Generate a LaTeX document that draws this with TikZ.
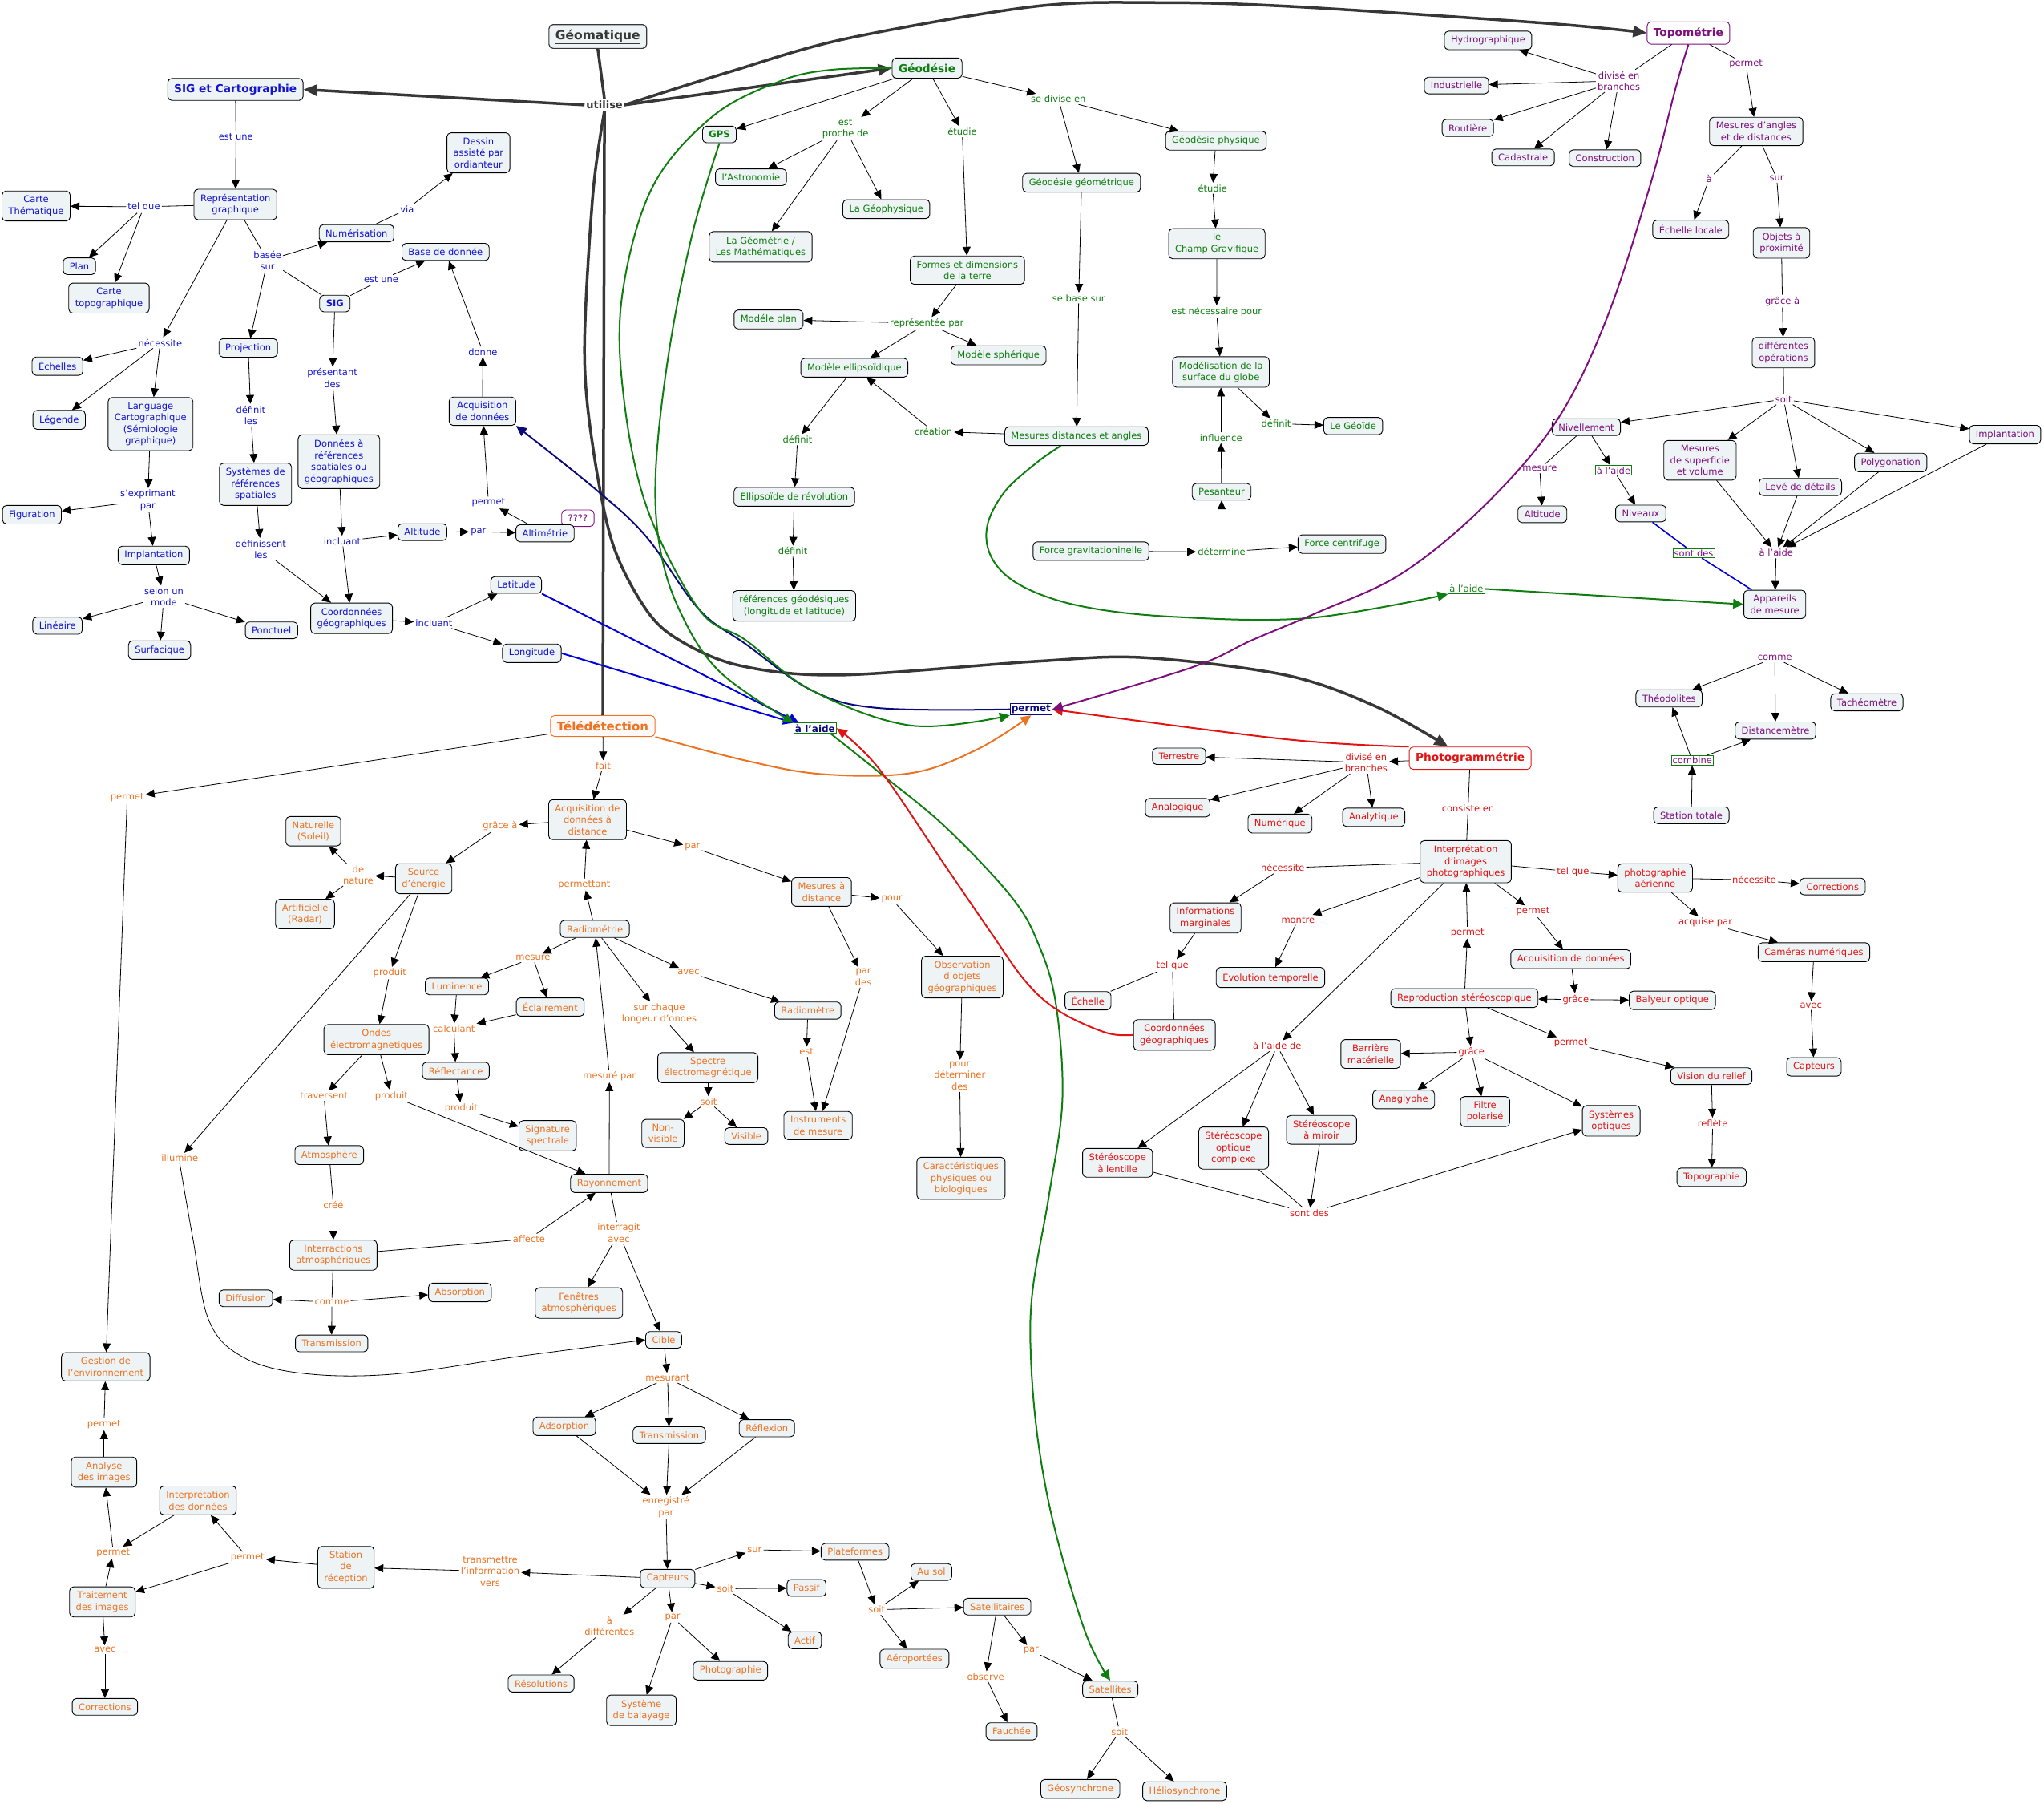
\documentclass[tikz,border=0pt]{standalone}
\usepackage{fontspec}
\setmainfont{DejaVu Sans}
\usetikzlibrary{arrows.meta,calc}
\definecolor{cfill}{HTML}{EEF3F5}
\definecolor{cblu}{RGB}{20,20,205}
\definecolor{cgrn}{RGB}{15,125,15}
\definecolor{cpur}{RGB}{125,15,125}
\definecolor{cora}{RGB}{235,115,35}
\definecolor{cred}{RGB}{225,20,20}
\definecolor{cdrk}{RGB}{55,55,55}
\definecolor{cnavy}{RGB}{10,10,125}
\definecolor{cblue2}{RGB}{0,0,220}
\newcommand\myfs{\fontsize{11.5}{14.5}\selectfont}
\newcommand\ttfs{\fontsize{13.7}{16}\selectfont\bfseries}
\newcommand\ARW[2]{\draw[ar] (#1) -- (#2);}
\newcommand\LNK[2]{\draw[ln] (#1) -- (#2);}
\begin{document}
\begin{tikzpicture}[x=1.6263pt,y=-1.6263pt,
  box/.style={draw=black,line width=0.9pt,rounded corners=5pt,fill=cfill,inner xsep=8pt,inner ysep=6pt,align=center,font=\myfs},
  ttl/.style={box,font=\ttfs,inner ysep=7pt},
  lab/.style={inner sep=2pt,align=center,font=\myfs},
  B/.style={box,text=cblu}, G/.style={box,text=cgrn}, P/.style={box,text=cpur},
  O/.style={box,text=cora}, R/.style={box,text=cred},
  lB/.style={lab,text=cblu}, lG/.style={lab,text=cgrn}, lP/.style={lab,text=cpur},
  lO/.style={lab,text=cora}, lR/.style={lab,text=cred},
  gbox/.style={draw=cgrn,line width=0.8pt,inner sep=1.5pt},
  ln/.style={draw=black,line width=0.8pt},
  ar/.style={ln,-{Triangle[length=11pt,width=10pt]}},
  thk/.style={draw=cdrk,line width=3.5pt},
  thka/.style={thk,-{Triangle[length=17pt,width=14pt]}},
  xl/.style={line width=2pt,-{Triangle[length=13pt,width=12pt]}},
]
\useasboundingbox (0,0) rectangle (1568,1383);

% ================= centre =================
\node[box,draw=cdrk,line width=1.2pt,text=cdrk,font=\fontsize{15.5}{18}\selectfont\bfseries] (geomat) at (458.6,28) {\underline{Géomatique}};
\node[lab,text=cdrk,font=\fontsize{13}{15}\selectfont\bfseries] (utilise) at (463.7,80.5) {utilise};
\node[draw=cnavy,fill=white,line width=0.9pt,inner sep=1.5pt,text=cnavy,font=\fontsize{12}{14}\selectfont\bfseries] (permm) at (791,544) {permet};
\node[draw=cgrn,fill=white,line width=0.9pt,inner sep=1.5pt,text=cnavy,font=\fontsize{12}{14}\selectfont\bfseries] (aidem) at (625.3,558.5) {à l'aide};

% ================= SIG (blue) =================
\node[ttl,text=cblu] (sigc) at (180.6,68.6) {SIG et Cartographie};
\node[B] (repg) at (180.6,156.8) {Représentation\\graphique};
\node[B] (cthem) at (27.7,158) {Carte\\Thématique};
\node[B] (plan) at (60.9,204.2) {Plan};
\node[B] (ctopo) at (83.6,228.6) {Carte\\topographique};
\node[B] (echl) at (44.1,280.8) {Échelles};
\node[B] (leg) at (45.4,322) {Légende};
\node[B] (lang) at (115.5,325.2) {Language\\Cartographique\\(Sémiologie\\graphique)};
\node[B] (numer) at (273.5,178.9) {Numérisation};
\node[B] (dessin) at (367,117.2) {Dessin\\assisté par\\ordianteur};
\node[B] (bdd) at (341.8,193.2) {Base de donnée};
\node[B,font=\myfs\bfseries] (sig) at (256.9,232.8) {SIG};
\node[B] (proj) at (190.4,266.8) {Projection};
\node[B] (sysref) at (196,371.4) {Systèmes de\\références\\spatiales};
\node[B] (donn) at (260,354.1) {Données à\\références\\spatiales ou\\géographiques};
\node[B] (acqb) at (370.1,315.4) {Acquisition\\de données};
\node[B] (figur) at (24.5,394.7) {Figuration};
\node[B] (implb) at (118,426) {Implantation};
\node[B] (linea) at (44.1,479.8) {Linéaire};
\node[B] (surfa) at (122.4,498.6) {Surfacique};
\node[B] (ponct) at (208.3,483.4) {Ponctuel};
\node[B] (coordb) at (269.7,474.2) {Coordonnées\\géographiques};
\node[B] (altb) at (324,408.1) {Altitude};
\node[box,fill=white,draw=cpur,text=cpur] (qqq) at (443.3,397.4) {????};
\node[B] (altim) at (418.1,409) {Altimétrie};
\node[B] (lat) at (396,448.6) {Latitude};
\node[B] (long) at (408,501) {Longitude};

\node[lB] (lestune1) at (181,104.6) {est une};
\node[lB] (ltelque1) at (110.4,158.6) {tel que};
\node[lB] (lnec1) at (122.9,262.9) {nécessite};
\node[lB] (lbasee) at (205.2,199.7) {basée\\sur};
\node[lB] (lvia) at (312.3,160.4) {via};
\node[lB] (lestune2) at (292.4,214.6) {est une};
\node[lB] (lpres) at (254.9,290) {présentant\\des};
\node[lB] (ldefles) at (192.4,318.4) {définit\\les};
\node[lB] (lsexp) at (113.4,383.7) {s'exprimant\\par};
\node[lB] (lselon) at (125.7,457.6) {selon un\\mode};
\node[lB] (ldefsles) at (200.1,421.2) {définissent\\les};
\node[lB] (lincl1) at (262.6,415) {incluant};
\node[lB] (lpar1) at (367,407.8) {par};
\node[lB] (lperm1) at (374.7,385.4) {permet};
\node[lB] (ldonne) at (370.4,269.8) {donne};
\node[lB] (lincl2) at (332.9,477.8) {incluant};

% ================= Géodésie (green) =================
\node[ttl,text=cgrn] (geod) at (711.2,52.2) {Géodésie};
\node[G,font=\myfs\bfseries] (gps) at (551.9,103.1) {GPS};
\node[G] (astro) at (576.1,135.9) {l'Astronomie};
\node[G] (geophys) at (679.9,160.4) {La Géophysique};
\node[G] (geomet) at (583.5,189.3) {La Géométrie /\\Les Mathématiques};
\node[G] (formes) at (742.1,207.2) {Formes et dimensions\\de la terre};
\node[G] (modplan) at (589.6,245) {Modéle plan};
\node[G] (modsph) at (766,272.5) {Modèle sphérique};
\node[G] (modell) at (655.4,282) {Modèle ellipsoïdique};
\node[G] (ellrev) at (609.3,381) {Ellipsoïde de révolution};
\node[G] (refgeo) at (609.3,464.6) {références géodésiques\\(longitude et latitude)};
\node[G] (geogeom) at (829.7,140.1) {Géodésie géométrique};
\node[G] (geophy) at (932.7,107.9) {Géodésie physique};
\node[G] (champ) at (933.5,186.9) {le\\Champ Gravifique};
\node[G] (modelis) at (936.6,285.3) {Modélisation de la\\surface du globe};
\node[G] (mesda) at (825.8,334.5) {Mesures distances et angles};
\node[G] (geoide) at (1038,326.7) {Le Géoïde};
\node[G] (pesant) at (937.1,377.1) {Pesanteur};
\node[G] (forceg) at (836.9,422.7) {Force gravitationinelle};
\node[G] (forcec) at (1029.4,417.3) {Force centrifuge};

\node[lG] (lproche) at (648.5,98.7) {est\\proche de};
\node[lG] (letud1) at (738.2,101) {étudie};
\node[lG] (ldivise) at (811.9,76) {se divise en};
\node[lG] (lrepr) at (711,248) {représentée par};
\node[lG] (ldef1) at (611.8,337.2) {définit};
\node[lG] (lcreation) at (716.1,330.9) {création};
\node[lG] (ldef2) at (608.2,422.7) {définit};
\node[lG] (lbasesur) at (827.5,228.6) {se base sur};
\node[lG] (letud2) at (930.2,144.3) {étudie};
\node[lG] (lnecpour) at (933.3,239.1) {est nécessaire pour};
\node[lG] (ldef3) at (978.9,324.9) {définit};
\node[lG] (linflu) at (936.6,335.7) {influence};
\node[lG] (ldeterm) at (937.1,423.3) {détermine};
\node[lG,gbox] (aideg) at (1124.9,451.6) {à l'aide};

% ================= Topométrie (purple) =================
\node[ttl,text=cpur,draw=cpur,fill=white] (topo) at (1295.2,25.3) {Topométrie};
\node[P] (hydro) at (1141.5,31) {Hydrographique};
\node[P] (indus) at (1117.3,65.6) {Industrielle};
\node[P] (rout) at (1126,98.1) {Routière};
\node[P] (cadas) at (1168.4,120.7) {Cadastrale};
\node[P] (constr) at (1231.2,121.3) {Construction};
\node[P] (mesang) at (1347.2,100.8) {Mesures d'angles\\et de distances};
\node[P] (echloc) at (1297,175.9) {Échelle locale};
\node[P] (objets) at (1366.6,186.3) {Objets à\\proximité};
\node[P] (diffop) at (1368.1,270.4) {différentes\\opérations};
\node[P] (nivel) at (1216.9,327.6) {Nivellement};
\node[P] (messup) at (1304.1,353) {Mesures\\de superficie\\et volume};
\node[P] (leve) at (1381.1,373.5) {Levé de détails};
\node[P] (polyg) at (1450.4,354.7) {Polygonation};
\node[P] (implp) at (1538.1,333.3) {Implantation};
\node[P] (altp) at (1183.2,394.4) {Altitude};
\node[P] (niveaux) at (1258.7,393.8) {Niveaux};
\node[P] (appar) at (1361.5,463.5) {Appareils\\de mesure};
\node[P] (theod) at (1280.4,535.6) {Théodolites};
\node[P] (tacheo) at (1432.1,538.6) {Tachéomètre};
\node[P] (distm) at (1362,560.3) {Distancemètre};
\node[P] (stot) at (1297.5,625.3) {Station totale};

\node[lP] (ldivbr) at (1241.9,62) {divisé en\\branches};
\node[lP] (lperm2) at (1339.3,49.2) {permet};
\node[lP] (la) at (1311.2,137.1) {à};
\node[lP] (lsur1) at (1363,136.8) {sur};
\node[lP] (lgrace1) at (1367.3,231) {grâce à};
\node[lP] (lsoit1) at (1368.3,306.2) {soit};
\node[lP] (lmesure1) at (1181.2,359.5) {mesure};
\node[lP,gbox] (laide1) at (1237.8,360.7) {à l'aide};
\node[lP,gbox] (lsontdes1) at (1299.3,424.2) {sont des};
\node[lP] (laide2) at (1362.5,423.9) {à l'aide};
\node[lP] (lcomme1) at (1361.5,504.6) {comme};
\node[lP,gbox] (lcombine) at (1298.2,583.3) {combine};

% ================= Photogrammétrie (red) =================
\node[ttl,text=cred,draw=cred,fill=white] (photog) at (1127.8,581.5) {Photogrammétrie};
\node[R] (terr) at (904.5,580) {Terrestre};
\node[R] (analog) at (903.4,619.4) {Analogique};
\node[R] (numeriq) at (981.9,631.6) {Numérique};
\node[R] (analyt) at (1053.8,626.8) {Analytique};
\node[R] (interp) at (1124.4,660.8) {Interprétation\\d'images\\photographiques};
\node[R] (infom) at (924.8,704) {Informations\\marginales};
\node[R] (evol) at (974.6,749.6) {Évolution temporelle};
\node[R] (echr) at (834.6,767.5) {Échelle};
\node[R] (coordr) at (900.9,793.7) {Coordonnées\\géographiques};
\node[R] (photoaer) at (1269.7,673.3) {photographie\\aérienne};
\node[R] (corrr) at (1405.8,679.9) {Corrections};
\node[R] (cameras) at (1391.5,730.3) {Caméras numériques};
\node[R] (capr) at (1391.5,818.2) {Capteurs};
\node[R] (acqr) at (1205,735.6) {Acquisition de données};
\node[R] (balyeur) at (1282.9,767.2) {Balyeur optique};
\node[R] (repro) at (1123.4,765.4) {Reproduction stéréoscopique};
\node[R] (vision) at (1312.8,825.3) {Vision du relief};
\node[R] (topog) at (1313,902.9) {Topographie};
\node[R] (sysopt) at (1236,859.6) {Systèmes\\optiques};
\node[R] (barr) at (1051.5,808.3) {Barrière\\matérielle};
\node[R] (anagl) at (1076.8,843.2) {Anaglyphe};
\node[R] (filtre) at (1139.2,852.5) {Filtre\\polarisé};
\node[R] (stlent) at (857.3,891.8) {Stéréoscope\\à lentille};
\node[R] (stopt) at (946.3,880.5) {Stéréoscope\\optique\\complexe};
\node[R] (stmir) at (1013.8,866.5) {Stéréoscope\\à miroir};

\node[lR] (ldivbr2) at (1048,584.8) {divisé en\\branches};
\node[lR] (lconsiste) at (1126.2,619.7) {consiste en};
\node[lR] (lnec2) at (984,665.6) {nécessite};
\node[lR] (lmontre) at (995.7,705.5) {montre};
\node[lR] (ltelque3) at (899.4,740.4) {tel que};
\node[lR] (laidede) at (979.7,802.1) {à l'aide de};
\node[lR] (lperm4) at (1125.7,715.3) {permet};
\node[lR] (lperm3) at (1176,699) {permet};
\node[lR] (ltelque2) at (1206.7,668.5) {tel que};
\node[lR] (lnec3) at (1345.7,674.8) {nécessite};
\node[lR] (lacquise) at (1308.2,707.6) {acquise par};
\node[lR] (lavec1) at (1389.2,771.1) {avec};
\node[lR] (lgrace2) at (1208.8,766.6) {grâce};
\node[lR] (lgrace3) at (1128.8,806.9) {grâce};
\node[lR] (lperm5) at (1205,800) {permet};
\node[lR] (lreflete) at (1313.8,861.4) {reflète};
\node[lR] (lsontdes2) at (1004.4,930.4) {sont des};

% ================= Télédétection (orange) =================
\node[ttl,text=cora,draw=cora,fill=white!96!cora,font=\fontsize{15}{18}\selectfont\bfseries] (tele) at (462.4,556.8) {Télédétection};
\node[O] (acqd) at (450.7,628.6) {Acquisition de\\données à\\distance};
\node[O] (natur) at (240.4,637.5) {Naturelle\\(Soleil)};
\node[O] (artif) at (234,701) {Artificielle\\(Radar)};
\node[O] (source) at (325,673.9) {Source\\d'énergie};
\node[O] (mesd) at (630.2,684) {Mesures à\\distance};
\node[O] (radiom) at (456.3,712.4) {Radiométrie};
\node[O] (lumin) at (350.5,756.5) {Luminence};
\node[O] (eclair) at (422.1,772.3) {Éclairement};
\node[O] (ondes) at (288.8,797.3) {Ondes\\électromagnetiques};
\node[O] (reflect) at (349.7,821.2) {Réflectance};
\node[O] (signat) at (420.1,871) {Signature\\spectrale};
\node[O] (radiomt) at (619.7,775) {Radiomètre};
\node[O] (spectre) at (543,818.8) {Spectre\\électromagnétique};
\node[O] (nonvis) at (508.6,869.2) {Non-\\visible};
\node[O] (visible) at (572.5,871.3) {Visible};
\node[O] (instr) at (627.6,863.2) {Instruments\\de mesure};
\node[O] (observ) at (738.2,749.3) {Observation\\d'objets\\géographiques};
\node[O] (caract) at (737.2,903.7) {Caractéristiques\\physiques ou\\biologiques};
\node[O] (atmos) at (252.6,885.9) {Atmosphère};
\node[O] (rayon) at (467.3,907.6) {Rayonnement};
\node[O] (interr) at (255.7,962.6) {Interractions\\atmosphériques};
\node[O] (diffus) at (188.6,995.7) {Diffusion};
\node[O] (absorp) at (352.8,991.2) {Absorption};
\node[O] (transma) at (254.4,1030.3) {Transmission};
\node[O] (fenet) at (444.1,999.3) {Fenêtres\\atmosphériques};
\node[O] (cible) at (509.1,1027.6) {Cible};
\node[O] (adsorp) at (432.9,1093.8) {Adsorption};
\node[O] (transmb) at (513.4,1100.6) {Transmission};
\node[O] (reflex) at (588.3,1095.3) {Réflexion};
\node[O] (capo) at (512.1,1210.6) {Capteurs};
\node[O] (platef) at (655.9,1190.1) {Plateformes};
\node[O] (passif) at (618.7,1217.8) {Passif};
\node[O] (actif) at (617.4,1258) {Actif};
\node[O] (ausol) at (714.5,1205.6) {Au sol};
\node[O] (satel) at (765,1232.1) {Satellitaires};
\node[O] (aerop) at (701.5,1272.1) {Aéroportées};
\node[O] (resol) at (415.1,1291.1) {Résolutions};
\node[O] (sysbal) at (492,1311.7) {Système\\de balayage};
\node[O] (photo) at (560.3,1281.3) {Photographie};
\node[O] (fauch) at (776,1327.8) {Fauchée};
\node[O] (satellites) at (851.7,1295.6) {Satellites};
\node[O] (geosync) at (828.7,1371.9) {Géosynchrone};
\node[O] (heliosync) at (908.8,1373.7) {Héliosynchrone};
\node[O] (gestion) at (81.1,1048.2) {Gestion de\\l'environnement};
\node[O] (analyse) at (79.8,1129) {Analyse\\des images};
\node[O] (interpd) at (151.9,1150.7) {Interprétation\\des données};
\node[O] (strec) at (265.4,1202) {Station\\de\\réception};
\node[O] (traitem) at (78.5,1228.5) {Traitement\\des images};
\node[O] (corro) at (80.5,1309) {Corrections};

\node[lO] (lperm6) at (97.6,611.6) {permet};
\node[lO] (lfait) at (462.7,587.2) {fait};
\node[lO] (lgrace4) at (383.6,633.4) {grâce à};
\node[lO] (lpar2) at (531.2,649.8) {par};
\node[lO] (lpour) at (684.2,689.7) {pour};
\node[lO] (lpardes) at (662.3,749.6) {par\\des};
\node[lO] (lpourdet) at (736.2,825.1) {pour\\déterminer\\des};
\node[lO] (lpermettant) at (448.2,678.4) {permettant};
\node[lO] (lmesure2) at (408.9,734.7) {mesure};
\node[lO] (lavec2) at (528.2,745.7) {avec};
\node[lO] (lsurchaque) at (505.8,777.4) {sur chaque\\longeur d'ondes};
\node[lO] (lsoit2) at (543.5,844.7) {soit};
\node[lO] (lest) at (618.7,806.6) {est};
\node[lO] (lmesurepar) at (467.5,825.1) {mesuré par};
\node[lO] (lnature) at (274.8,670.9) {de\\nature};
\node[lO] (lprod1) at (299,746.3) {produit};
\node[lO] (lcalc) at (348.2,789) {calculant};
\node[lO] (lprod3) at (353.8,850.1) {produit};
\node[lO] (ltrav) at (248.5,840.5) {traversent};
\node[lO] (lprod2) at (300.3,840.5) {produit};
\node[lO] (lillum) at (137.9,888.2) {illumine};
\node[lO] (lcree) at (255.7,924.4) {créé};
\node[lO] (laffecte) at (405.8,950.1) {affecte};
\node[lO] (lcomme2) at (254.6,998.7) {comme};
\node[lO] (linterr) at (474.7,945.6) {interragit\\avec};
\node[lO] (lmesurant) at (512.1,1056.8) {mesurant};
\node[lO] (lenreg) at (510.9,1155.8) {enregistré\\par};
\node[lO] (ltransm) at (376,1205) {transmettre\\l'information\\vers};
\node[lO] (lsur2) at (578.9,1188.6) {sur};
\node[lO] (lsoit4) at (556.5,1218.4) {soit};
\node[lO] (ladiff) at (467.5,1247) {à\\différentes};
\node[lO] (lpar3) at (516,1240.4) {par};
\node[lO] (lsoit3) at (672.5,1234.5) {soit};
\node[lO] (lobserve) at (756.1,1285.8) {observe};
\node[lO] (lpar4) at (791,1265.8) {par};
\node[lO] (lsoit5) at (858.8,1328.1) {soit};
\node[lO] (lperm7) at (189.9,1194.5) {permet};
\node[lO] (lperm8) at (86.9,1190.7) {permet};
\node[lO] (lperm9) at (79.8,1092.3) {permet};
\node[lO] (lavec3) at (80.5,1265.2) {avec};

% ================= edges: SIG =================
\LNK{sigc}{lestune1} \ARW{lestune1}{repg}
\LNK{repg}{ltelque1} \ARW{ltelque1}{cthem} \ARW{ltelque1}{plan} \ARW{ltelque1}{ctopo}
\ARW{repg}{lnec1} \ARW{lnec1}{echl} \ARW{lnec1}{leg} \ARW{lnec1}{lang}
\LNK{repg}{lbasee} \ARW{lbasee}{numer} \ARW{lbasee}{proj} \LNK{lbasee}{sig}
\LNK{numer}{lvia} \ARW{lvia}{dessin}
\LNK{sig}{lestune2} \ARW{lestune2}{bdd}
\ARW{sig}{lpres} \ARW{lpres}{donn}
\ARW{lang}{lsexp} \ARW{lsexp}{figur} \ARW{lsexp}{implb}
\ARW{implb}{lselon} \ARW{lselon}{linea} \ARW{lselon}{surfa} \ARW{lselon}{ponct}
\ARW{proj}{ldefles} \ARW{ldefles}{sysref}
\ARW{sysref}{ldefsles} \ARW{ldefsles}{coordb}
\ARW{donn}{lincl1} \ARW{lincl1}{coordb} \ARW{lincl1}{altb}
\ARW{altb}{lpar1} \ARW{lpar1}{altim}
\ARW{altim}{lperm1} \ARW{lperm1}{acqb}
\ARW{acqb}{ldonne} \ARW{ldonne}{bdd}
\ARW{coordb}{lincl2} \ARW{lincl2}{lat} \ARW{lincl2}{long}

% ================= edges: Géodésie =================
\ARW{geod}{gps}
\ARW{geod}{lproche} \ARW{lproche}{astro} \ARW{lproche}{geomet} \ARW{lproche}{geophys}
\ARW{geod}{letud1} \ARW{letud1}{formes}
\ARW{geod}{ldivise} \ARW{ldivise}{geogeom} \ARW{ldivise}{geophy}
\ARW{formes}{lrepr} \ARW{lrepr}{modplan} \ARW{lrepr}{modell} \ARW{lrepr}{modsph}
\ARW{modell}{ldef1} \ARW{ldef1}{ellrev}
\ARW{ellrev}{ldef2} \ARW{ldef2}{refgeo}
\ARW{mesda}{lcreation} \ARW{lcreation}{modell}
\ARW{geogeom}{lbasesur} \ARW{lbasesur}{mesda}
\ARW{geophy}{letud2} \ARW{letud2}{champ}
\ARW{champ}{lnecpour} \ARW{lnecpour}{modelis}
\ARW{modelis}{ldef3} \ARW{ldef3}{geoide}
\ARW{pesant}{linflu} \ARW{linflu}{modelis}
\ARW{forceg}{ldeterm} \ARW{ldeterm}{pesant} \ARW{ldeterm}{forcec}

% ================= edges: Topométrie =================
\LNK{topo}{ldivbr} \ARW{ldivbr}{hydro} \ARW{ldivbr}{indus} \ARW{ldivbr}{rout} \ARW{ldivbr}{cadas} \ARW{ldivbr}{constr}
\LNK{topo}{lperm2} \ARW{lperm2}{mesang}
\LNK{mesang}{la} \ARW{la}{echloc}
\LNK{mesang}{lsur1} \ARW{lsur1}{objets}
\LNK{objets}{lgrace1} \ARW{lgrace1}{diffop}
\LNK{diffop}{lsoit1} \ARW{lsoit1}{nivel} \ARW{lsoit1}{messup} \ARW{lsoit1}{leve} \ARW{lsoit1}{polyg} \ARW{lsoit1}{implp}
\LNK{nivel}{lmesure1} \ARW{lmesure1}{altp}
\ARW{nivel}{laide1} \ARW{laide1}{niveaux}
\draw[cblue2,line width=1.6pt] (niveaux) -- (lsontdes1) -- (appar);
\ARW{messup}{laide2} \ARW{leve}{laide2} \ARW{polyg}{laide2} \ARW{implp}{laide2} \ARW{laide2}{appar}
\LNK{appar}{lcomme1} \ARW{lcomme1}{theod} \ARW{lcomme1}{distm} \ARW{lcomme1}{tacheo}
\ARW{stot}{lcombine} \ARW{lcombine}{theod} \ARW{lcombine}{distm}

% ================= edges: Photogrammétrie =================
\ARW{photog}{ldivbr2} \ARW{ldivbr2}{terr} \ARW{ldivbr2}{analog} \ARW{ldivbr2}{numeriq} \ARW{ldivbr2}{analyt}
\LNK{photog}{lconsiste} \LNK{lconsiste}{interp}
\LNK{interp}{lnec2} \ARW{lnec2}{infom}
\ARW{interp}{lmontre} \ARW{lmontre}{evol}
\ARW{interp}{laidede} \ARW{laidede}{stlent} \ARW{laidede}{stopt} \ARW{laidede}{stmir}
\LNK{interp}{ltelque2} \ARW{ltelque2}{photoaer}
\ARW{interp}{lperm3} \ARW{lperm3}{acqr}
\ARW{repro}{lperm4} \ARW{lperm4}{interp}
\ARW{infom}{ltelque3} \LNK{ltelque3}{echr} \LNK{ltelque3}{coordr}
\ARW{acqr}{lgrace2} \ARW{lgrace2}{repro} \ARW{lgrace2}{balyeur}
\ARW{repro}{lgrace3} \ARW{lgrace3}{barr} \ARW{lgrace3}{anagl} \ARW{lgrace3}{filtre} \ARW{lgrace3}{sysopt}
\ARW{repro}{lperm5} \ARW{lperm5}{vision}
\ARW{vision}{lreflete} \ARW{lreflete}{topog}
\LNK{photoaer}{lnec3} \ARW{lnec3}{corrr}
\ARW{photoaer}{lacquise} \ARW{lacquise}{cameras}
\ARW{cameras}{lavec1} \ARW{lavec1}{capr}
\LNK{stlent}{lsontdes2} \LNK{stopt}{lsontdes2} \ARW{stmir}{lsontdes2} \ARW{lsontdes2}{sysopt}

% ================= edges: Télédétection =================
\ARW{tele}{lperm6} \ARW{lperm6}{gestion}
\ARW{tele}{lfait} \ARW{lfait}{acqd}
\ARW{acqd}{lgrace4} \ARW{lgrace4}{source}
\ARW{acqd}{lpar2} \ARW{lpar2}{mesd}
\ARW{mesd}{lpour} \ARW{lpour}{observ}
\ARW{observ}{lpourdet} \ARW{lpourdet}{caract}
\ARW{mesd}{lpardes} \ARW{lpardes}{instr}
\ARW{radiom}{lpermettant} \ARW{lpermettant}{acqd}
\ARW{radiom}{lmesure2} \ARW{lmesure2}{lumin} \ARW{lmesure2}{eclair}
\ARW{radiom}{lsurchaque} \ARW{lsurchaque}{spectre}
\ARW{spectre}{lsoit2} \ARW{lsoit2}{nonvis} \ARW{lsoit2}{visible}
\ARW{radiom}{lavec2} \ARW{lavec2}{radiomt}
\ARW{radiomt}{lest} \ARW{lest}{instr}
\ARW{rayon}{lmesurepar} \ARW{lmesurepar}{radiom}
\ARW{source}{lnature} \ARW{lnature}{natur} \ARW{lnature}{artif}
\ARW{source}{lprod1} \ARW{lprod1}{ondes}
\ARW{source}{lillum}
\draw[ar] plot[smooth,tension=0.6] coordinates {(lillum.south) (148,950) (160,1012) (185,1040) (230,1053) (300,1054) (400,1040) (cible.west)};
\ARW{lumin}{lcalc} \ARW{eclair}{lcalc} \ARW{lcalc}{reflect}
\ARW{reflect}{lprod3} \ARW{lprod3}{signat}
\ARW{ondes}{ltrav} \ARW{ltrav}{atmos}
\ARW{ondes}{lprod2} \ARW{lprod2}{rayon}
\LNK{atmos}{lcree} \ARW{lcree}{interr}
\LNK{interr}{laffecte} \ARW{laffecte}{rayon}
\LNK{interr}{lcomme2} \ARW{lcomme2}{diffus} \ARW{lcomme2}{absorp} \ARW{lcomme2}{transma}
\LNK{rayon}{linterr} \ARW{linterr}{fenet} \ARW{linterr}{cible}
\ARW{cible}{lmesurant} \ARW{lmesurant}{adsorp} \ARW{lmesurant}{transmb} \ARW{lmesurant}{reflex}
\ARW{adsorp}{lenreg} \ARW{transmb}{lenreg} \ARW{reflex}{lenreg} \ARW{lenreg}{capo}
\ARW{capo}{ltransm} \ARW{ltransm}{strec}
\ARW{capo}{lsur2} \ARW{lsur2}{platef}
\ARW{platef}{lsoit3} \ARW{lsoit3}{ausol} \ARW{lsoit3}{satel} \ARW{lsoit3}{aerop}
\ARW{capo}{lsoit4} \ARW{lsoit4}{passif} \ARW{lsoit4}{actif}
\ARW{capo}{ladiff} \ARW{ladiff}{resol}
\ARW{capo}{lpar3} \ARW{lpar3}{sysbal} \ARW{lpar3}{photo}
\ARW{satel}{lobserve} \ARW{lobserve}{fauch}
\ARW{satel}{lpar4} \ARW{lpar4}{satellites}
\LNK{satellites}{lsoit5} \ARW{lsoit5}{geosync} \ARW{lsoit5}{heliosync}
\ARW{strec}{lperm7} \ARW{lperm7}{interpd} \ARW{lperm7}{traitem}
\ARW{interpd}{lperm8} \ARW{traitem}{lperm8} \ARW{lperm8}{analyse}
\ARW{analyse}{lperm9} \ARW{lperm9}{gestion}
\ARW{traitem}{lavec3} \ARW{lavec3}{corro}

% ================= Géomatique thick links =================
\draw[thk] (geomat.south) -- (utilise.north);
\draw[thk] (utilise.south) -- (tele.north);
\draw[thka] (utilise.west) -- (sigc.east);
\draw[thka] (utilise.east) -- (geod.west);
\draw[thka] plot[smooth,tension=0.55] coordinates {(utilise.east) (560,55) (648.5,29.8) (793.3,5) (889,2) (991.1,5) (1187,17.9) (topo.west)};
\draw[thka] plot[smooth,tension=0.55] coordinates {(utilise.south) (454.8,149) (448.4,268.3) (454.8,342.8) (470.1,417.3) (495.6,467.4) (521,490.9) (566.9,510.3) (643.4,517.7) (793.3,507.3) (876.4,504.3) (986,517.7) (1054.8,541.5) ($(photog.north)+(-17,0)$)};

% ================= coloured cross links =================
\draw[xl,cblue2] (lat.south east) -- ($(aidem.north west)+(4,0)$);
\draw[xl,cblue2] (long.east) -- (aidem.north west);
\draw[xl,cnavy] plot[smooth,tension=0.6] coordinates {(permm.west) (674,543) (623,529.6) (572,493.9) (536.3,467.4) (495.6,411.4) (457.3,375.6) (acqb.south east)};
\draw[xl,cgrn] plot[smooth,tension=0.6] coordinates {(gps.south) (531.2,178.9) (513.4,268.3) (503.2,357.7) (505.8,417.3) (521,467.4) (551.6,514.7) (aidem.north west)};
\draw[xl,cgrn] plot[smooth,tension=0.6] coordinates {(geod.west) (635.8,53.7) (597.5,62.6) (546.5,89.4) (500.7,143.1) (477.7,223.6) (477.7,298.1) (495.6,387.5) (536.3,467.4) (572,490.9) (623,529.6) (699.5,556.5) (permm.south west)};
\draw[xl,cgrn] plot[smooth,tension=0.6] coordinates {($(aidem.south)+(12,0)$) (674,592) (725,634) (776,688) (797,725) (810,770) (815,843) (805,915) (792,991) (791,1045) (797,1110) (810,1176) (833,1253) (satellites.north)};
\draw[xl,cgrn] plot[smooth,tension=0.6] coordinates {($(mesda.south)+(-12,0)$) (795,355) (770,378) (757,405) (762,430) (785,450) (830,465) (900,473) (1004,474) (aideg.south west)};
\draw[xl,cgrn] (aideg.east) -- (appar.west);
\draw[xl,cora] plot[smooth,tension=0.6] coordinates {(tele.south east) (572,583.3) (630.7,593.7) (699.5,592.8) (750.5,574.3) (permm.south)};
\draw[xl,cred] plot[smooth,tension=0.6] coordinates {(coordr.west) (848.4,792) (812.7,775.6) (787.2,753.2) (760,715) (725,663.8) (674,589.2) (aidem.east)};
\draw[xl,cred] plot[smooth,tension=0.6] coordinates {(photog.north west) (986,566.9) (permm.east)};
\draw[xl,cpur] plot[smooth,tension=0.6] coordinates {(topo.south) (1285.8,66.1) (1265.4,143.6) (1232.2,245) (1194,322.8) (1139,387.5) (1075,440) (1010,470) (960.5,490.9) (914.7,511.7) (permm.east)};
\end{tikzpicture}
\end{document}
